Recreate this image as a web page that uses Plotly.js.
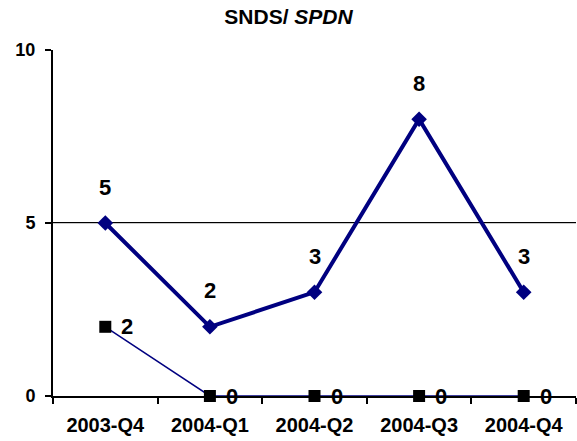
<!DOCTYPE html>
<html>
<head>
<meta charset="utf-8">
<script src="https://cdn.plot.ly/plotly-3.0.1.min.js"></script>
<style>html,body{margin:0;padding:0;background:#fff;}#chart{width:577px;height:441px;}</style>
</head>
<body>
<div id="chart"></div>
<script>
var categories = ["2003-Q4", "2004-Q1", "2004-Q2", "2004-Q3", "2004-Q4"];
var snds = [5, 2, 3, 8, 3];
var spdn = [2, 0, 0, 0, 0];
var yTicks = [0, 5, 10];
var targetLine = 5;

var FONT = "Arial, 'Liberation Sans', sans-serif";

var traces = [
  {
    x: categories, y: spdn, type: "scatter", mode: "lines+markers",
    line: {color: "#000080", width: 1.5},
    marker: {symbol: "square", size: 12, color: "#000000"},
    hoverinfo: "skip", cliponaxis: false
  },
  {
    x: categories, y: snds, type: "scatter", mode: "lines+markers",
    line: {color: "#000080", width: 4},
    marker: {symbol: "diamond", size: 12, color: "#000080"},
    hoverinfo: "skip", cliponaxis: false
  }
];

var annotations = [];
categories.forEach(function (c, i) {
  annotations.push({x: c, y: snds[i], xref: "x", yref: "y", text: "<b>" + snds[i] + "</b>",
    showarrow: false, yshift: 36, font: {family: FONT, size: 22, color: "#000"}});
  annotations.push({x: c, y: spdn[i], xref: "x", yref: "y", text: "<b>" + spdn[i] + "</b>",
    showarrow: false, xshift: 22, font: {family: FONT, size: 22, color: "#000"}});
});

var layout = {
  width: 577, height: 441,
  margin: {l: 53, r: 1, t: 50, b: 45},
  paper_bgcolor: "#fff", plot_bgcolor: "#fff",
  showlegend: false,
  font: {family: FONT, color: "#000"},
  title: {text: "<b>SNDS/ <i>SPDN</i></b>", x: 0.5, xref: "container", y: 0.963, yref: "container",
    yanchor: "middle", font: {family: FONT, size: 21, color: "#000"}},
  xaxis: {
    type: "category", range: [-0.5, 4.5], tickson: "boundaries",
    ticks: "outside", ticklen: 6, tickwidth: 2, tickcolor: "#000",
    showline: true, linecolor: "#000", linewidth: 2,
    showgrid: false, zeroline: false, ticklabelstandoff: 10,
    tickfont: {family: FONT, size: 20, color: "#000"},
    tickprefix: "<b>", ticksuffix: "</b>"
  },
  yaxis: {
    range: [0, 10], tickvals: yTicks, ticktext: yTicks.map(function (v) { return "<b>" + v + "</b>"; }),
    ticks: "outside", ticklen: 6, tickwidth: 2, tickcolor: "#000",
    showline: true, linecolor: "#000", linewidth: 2,
    showgrid: true, gridcolor: "#c8c8c8", gridwidth: 1, zeroline: false, ticklabelstandoff: 6,
    tickfont: {family: FONT, size: 18, color: "#000"}
  },
  shapes: [{type: "line", xref: "paper", x0: 0, x1: 1, yref: "y", y0: targetLine, y1: targetLine,
    line: {color: "#000", width: 2}, layer: "below"}],
  annotations: annotations
};

Plotly.newPlot("chart", traces, layout, {staticPlot: true, displayModeBar: false});
</script>
</body>
</html>
